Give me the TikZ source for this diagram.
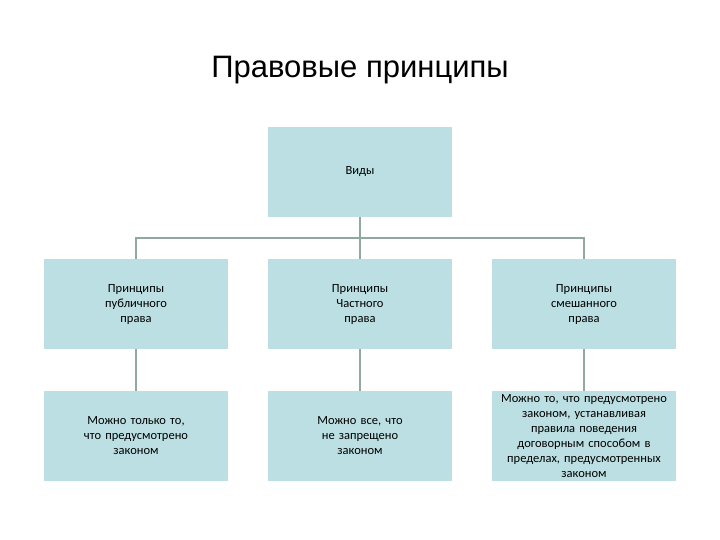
\documentclass[tikz,border=0pt]{standalone}
\usepackage{fontspec}
\setmainfont{Carlito}
\newfontfamily\titlefont{Liberation Sans}
\definecolor{boxfill}{HTML}{BBDFE2}
\definecolor{linec}{HTML}{8FA8A0}
\begin{document}
\begin{tikzpicture}[x=1pt,y=-1pt,
  box/.style={fill=boxfill,draw=none,minimum width=184pt,minimum height=90pt,align=center,font=\fontsize{12.5}{15}\selectfont,inner sep=0pt,text width=184pt},
  conn/.style={draw=linec,line width=1.5pt}]
\useasboundingbox (0,0) rectangle (720,540);
\node[font=\titlefont\fontsize{31}{36}\selectfont] (title) at (360,70) {Правовые принципы};
\node[box] (top) at (360,172) {Виды};
\node[box] (p1) at (136,304) {Принципы\\публичного\\права};
\node[box] (p2) at (360,304) {Принципы\\Частного\\права};
\node[box] (p3) at (584,304) {Принципы\\смешанного\\права};
\node[box] (d1) at (136,436) {Можно только то,\\что предусмотрено\\законом};
\node[box] (d2) at (360,436) {Можно все, что\\не запрещено\\законом};
\node[box] (d3) at (584,436) {Можно то, что предусмотрено\\законом, устанавливая\\правила поведения\\договорным способом в\\пределах, предусмотренных\\законом};
\coordinate (h) at (360,238);
\draw[conn] (top.south) -- (h);
\draw[conn] (p1.north) -- (p1.north |- h) -- (p3.north |- h) -- (p3.north);
\draw[conn] (h) -- (p2.north);
\draw[conn] (p1) -- (d1);
\draw[conn] (p2) -- (d2);
\draw[conn] (p3) -- (d3);
\end{tikzpicture}
\end{document}
